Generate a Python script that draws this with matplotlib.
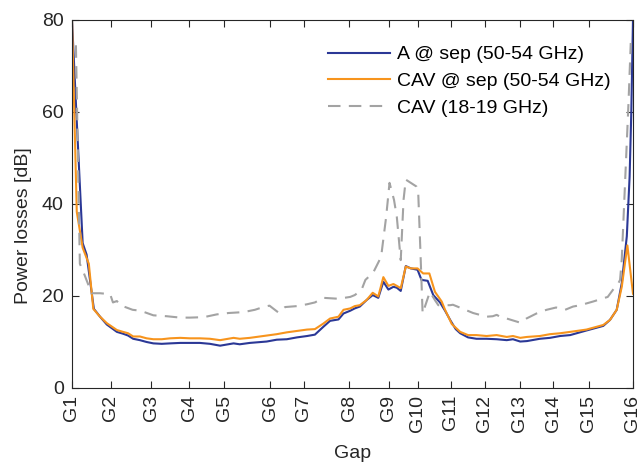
import numpy as np
from matplotlib import pyplot as plt

plt.rcParams["font.family"] = ["Liberation Sans", "DejaVu Sans"]

# gap positions along the x axis (arbitrary position units, 0..100)
gap_pos = [0, 6.9, 14.1, 20.9, 27.1, 35.3, 41.3, 49.4, 56.5, 61.6, 67.5, 73.6, 79.8, 85.8, 92.1, 100]
gap_labels = ["G" + str(i) for i in range(1, 17)]

# A @ sep (50-54 GHz)
a_x = [0, 0.85, 1.9, 2.6, 3.9, 5.0, 6.2, 8.0, 9.1, 10.0, 10.9, 12.1, 13.3, 14.5, 16.0, 17.5, 19.3, 21.0,
       22.8, 24.6, 26.4, 28.8, 29.9, 31.7, 34.7, 36.5, 38.3, 40.1, 41.9, 43.3, 44.8, 46.0, 47.5, 48.4,
       49.6, 50.4, 51.3, 52.5, 53.6, 54.6, 55.5, 56.4, 57.3, 57.9, 58.6, 59.5, 60.4, 61.6, 62.3, 63.4,
       64.4, 65.6, 66.5, 67.5, 68.4, 69.2, 70.6, 72.1, 73.9, 75.7, 77.5, 78.6, 79.9, 81.1, 83.4, 85.2,
       87.0, 88.8, 91.7, 94.7, 95.9, 97.1, 98.0, 98.9, 99.4, 99.7, 100]
a_y = [80, 58, 31.5, 29, 17.2, 15.5, 13.8, 12.2, 11.8, 11.4, 10.7, 10.4, 10.0, 9.7, 9.6, 9.7, 9.8, 9.8,
       9.8, 9.6, 9.2, 9.7, 9.5, 9.8, 10.1, 10.5, 10.6, 11.0, 11.3, 11.6, 13.3, 14.6, 14.9, 16.2,
       16.8, 17.3, 17.7, 19.1, 20.2, 19.6, 23.1, 21.4, 22.0, 21.8, 21.1, 26.5, 26.0, 25.7, 23.5, 23.3,
       20.2, 18.6, 16.8, 14.6, 12.8, 11.9, 11.0, 10.7, 10.7, 10.6, 10.4, 10.6, 10.1, 10.2, 10.7, 10.9,
       11.3, 11.5, 12.5, 13.5, 14.8, 17.0, 22.8, 33.0, 46.0, 60.0, 80]

# CAV @ sep (50-54 GHz)
cav_x = [0, 0.85, 1.9, 3.0, 3.8, 5.0, 6.2, 8.0, 9.1, 10.0, 10.9, 12.1, 13.3, 14.5, 16.0, 17.5, 19.3, 21.0,
         22.8, 24.6, 26.4, 28.8, 29.9, 31.7, 34.7, 36.5, 38.3, 40.1, 41.9, 43.3, 44.8, 46.0, 47.5, 48.4,
         49.6, 50.4, 51.3, 52.5, 53.6, 54.6, 55.5, 56.4, 57.3, 57.9, 58.6, 59.5, 60.4, 61.6, 62.6, 63.7,
         64.7, 65.9, 66.5, 67.7, 69.2, 70.6, 72.1, 73.9, 75.7, 77.5, 78.6, 79.9, 81.1, 83.4, 85.2, 87.0,
         88.8, 91.7, 94.7, 95.9, 97.1, 98.0, 99.0, 100]
cav_y = [80, 38.3, 30.5, 27.0, 17.2, 15.5, 14.1, 12.6, 12.2, 11.9, 11.2, 11.2, 10.8, 10.6, 10.6, 10.8, 10.9, 10.8,
         10.8, 10.7, 10.4, 10.9, 10.7, 10.9, 11.4, 11.7, 12.1, 12.4, 12.7, 12.8, 14.0, 15.1, 15.5, 17.0,
         17.3, 17.8, 18.0, 19.1, 20.7, 19.9, 24.1, 22.2, 22.6, 22.2, 21.7, 26.4, 26.0, 26.0, 24.9, 24.9,
         20.9, 18.8, 17.0, 13.9, 12.2, 11.5, 11.5, 11.3, 11.5, 11.1, 11.3, 10.9, 11.1, 11.3, 11.7, 11.9,
         12.2, 12.7, 13.7, 14.8, 17.0, 22.0, 31.0, 20.5]

# CAV (18-19 GHz)
low_x = [0.7, 1.4, 2.1, 3.5, 5.0, 6.8, 7.3, 8.0, 8.6, 10.8, 12.2, 14.5, 16.9, 19.3, 21.0, 23.5, 25.8, 27.9,
         30.6, 32.6, 34.1, 35.2, 36.8, 38.0, 40.1, 41.9, 43.3, 44.8, 47.5, 49.6, 50.4, 51.6, 52.3, 53.7,
         55.1, 56.0, 56.6, 57.4, 57.9, 58.6, 59.1, 59.5, 61.4, 61.7, 62.1, 62.5, 63.8, 64.7, 65.3, 67.4,
         67.9, 71.5, 73.9, 75.0, 75.7, 76.3, 77.5, 79.9, 81.0, 82.8, 84.6, 86.3, 87.9, 89.3, 90.6, 92.9,
         95.5, 96.4, 97.4, 97.7, 98.0, 98.6, 99.2, 99.6]
low_y = [74.5, 27.0, 25.0, 20.6, 20.6, 20.4, 18.6, 18.9, 18.0, 17.0, 16.8, 15.8, 15.6, 15.3, 15.3, 15.4, 16.0, 16.3,
         16.5, 17.0, 17.6, 17.9, 16.4, 17.6, 17.8, 18.2, 18.6, 19.6, 19.4, 19.8, 20.2, 21.3, 23.5, 25.1,
         28.5, 37.2, 44.6, 40.9, 37.2, 27.8, 40.9, 45.3, 43.8, 43.0, 30.0, 16.2, 20.9, 19.1, 18.0, 18.0,
         18.1, 16.3, 15.5, 15.6, 15.9, 15.5, 15.1, 14.2, 15.1, 16.2, 17.0, 17.5, 17.0, 17.7, 18.0, 18.8,
         19.8, 21.3, 22.8, 23.5, 28.0, 45.0, 62.0, 75.0]

fig = plt.figure(figsize=(6.44, 4.65), dpi=100)
ax = fig.add_axes([0.1118, 0.1656, 0.8711, 0.7914])

ax.plot(a_x, a_y, color="#2B3896", linewidth=1.5, label="A @ sep (50-54 GHz)")
ax.plot(cav_x, cav_y, color="#F7941D", linewidth=1.5, label="CAV @ sep (50-54 GHz)")
ax.plot(low_x, low_y, color="#A3A3A3", linewidth=1.5, linestyle=(0, (6, 4)), label="CAV (18-19 GHz)")

ax.set_xlim(0, 100)
ax.set_ylim(0, 80)
ax.set_yticks([0, 20, 40, 60, 80])
ax.set_xticks(gap_pos)
ax.set_xticklabels(gap_labels, rotation=90)
ax.tick_params(direction="in", top=True, right=True, labelsize=14, length=5, width=0.8, colors="#262626")
ax.tick_params(axis="y", pad=6)
ax.tick_params(axis="x", pad=5)
for s in ax.spines.values():
    s.set_color("#262626")
    s.set_linewidth(0.8)

ax.set_xlabel("Gap", fontsize=14, color="#262626", labelpad=9)
ax.set_ylabel("Power losses [dB]", fontsize=14, color="#262626")
ax.yaxis.set_label_coords(-0.072, 0.44)

ax.legend(loc="upper left", bbox_to_anchor=(0.456, 0.93), frameon=False, fontsize=14,
          handlelength=3.2, handletextpad=0.35, labelspacing=0.47, borderpad=0, borderaxespad=0)

fig.savefig("out.png", dpi=100)
